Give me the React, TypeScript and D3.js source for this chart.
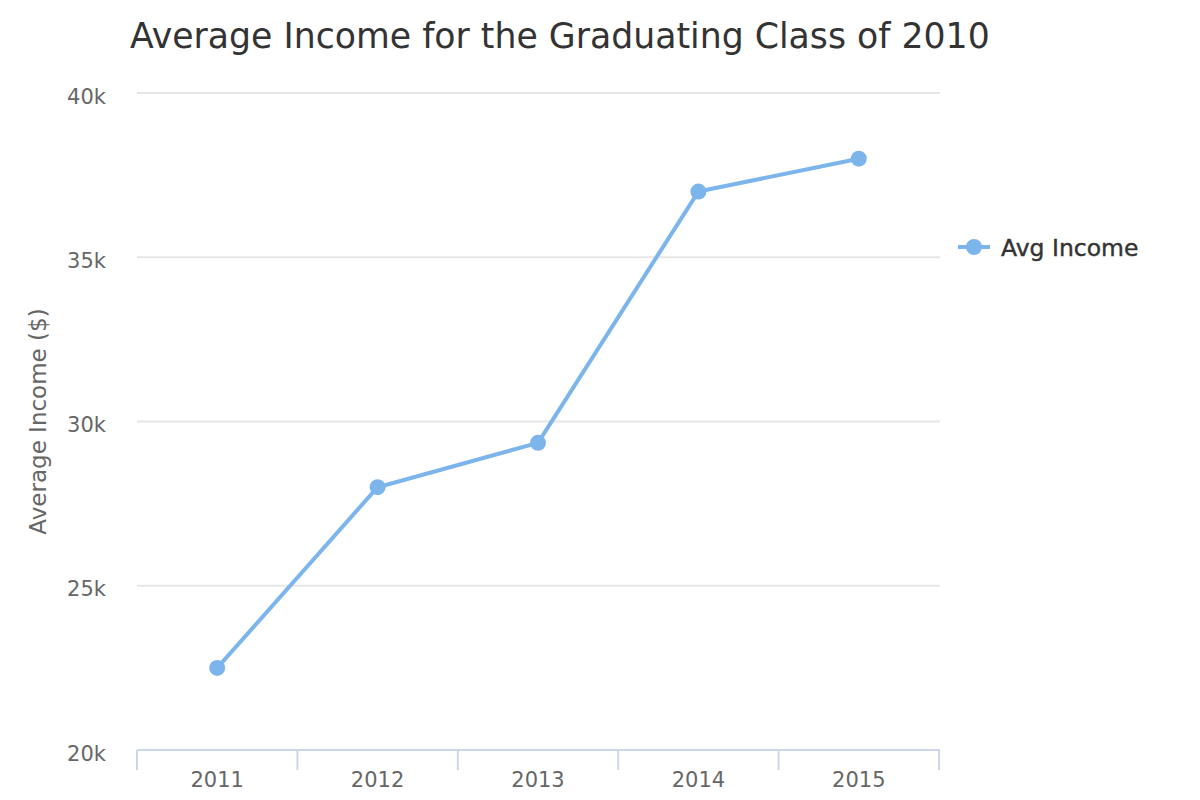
import React from "react";
import * as d3 from "d3";

const categories = ["2011", "2012", "2013", "2014", "2015"];
const avgIncome = [22500, 28000, 29350, 37000, 38000];
const yTicks = [20000, 25000, 30000, 35000, 40000];
const seriesName = "Avg Income";
const titleText = "Average Income for the Graduating Class of 2010";
const yAxisTitle = "Average Income ($)";

const FONT = "'DejaVu Sans', sans-serif";

export default function App() {
  const W = 1200, H = 800;
  const left = 137, right = 939, top = 93, bottom = 750;
  const x = d3.scaleBand<string>().domain(categories).range([left, right]);
  const y = d3.scaleLinear().domain([20000, 40000]).range([bottom, top]);
  const color = "#7cb5ec";
  const line = d3
    .line<number>()
    .x((_, i) => (x(categories[i]) as number) + x.bandwidth() / 2)
    .y((d) => y(d));
  const ticksX = [...categories.map((c) => x(c) as number), right];

  return (
    <svg
      width={W}
      height={H}
      style={{ position: "absolute", left: 0, top: 0, fontFamily: FONT }}
    >
      <rect width={W} height={H} fill="#ffffff" />
      <text x={130} y={48} fontSize={34.7} fill="#333333">
        {titleText}
      </text>
      {yTicks.map((t) => (
        <g key={t}>
          {t !== 20000 && (
            <line x1={left} x2={right + 1} y1={y(t)} y2={y(t)} stroke="#e6e6e6" strokeWidth={2} />
          )}
          <text x={106} y={y(t) + 10.5} fontSize={21} fill="#666666" textAnchor="end">
            {d3.format("d")(t / 1000) + "k"}
          </text>
        </g>
      ))}
      <text
        transform={`translate(46, ${(top + bottom) / 2}) rotate(-90)`}
        fontSize={23}
        fill="#666666"
        textAnchor="middle"
      >
        {yAxisTitle}
      </text>
      <line x1={left} x2={right + 1} y1={bottom} y2={bottom} stroke="#ccd6eb" strokeWidth={2} />
      {ticksX.map((tx, i) => (
        <line key={i} x1={tx} x2={tx} y1={bottom} y2={bottom + 20} stroke="#ccd6eb" strokeWidth={2} />
      ))}
      {categories.map((c) => (
        <text
          key={c}
          x={(x(c) as number) + x.bandwidth() / 2}
          y={787}
          fontSize={21}
          fill="#666666"
          textAnchor="middle"
        >
          {c}
        </text>
      ))}
      <path d={line(avgIncome) || ""} fill="none" stroke={color} strokeWidth={4} strokeLinejoin="round" strokeLinecap="round" />
      {avgIncome.map((v, i) => (
        <circle key={i} cx={(x(categories[i]) as number) + x.bandwidth() / 2} cy={y(v)} r={8} fill={color} />
      ))}
      <g>
        <line x1={958} x2={990} y1={247} y2={247} stroke={color} strokeWidth={4} />
        <circle cx={974} cy={247} r={8} fill={color} />
        <text x={1001} y={256} fontSize={23.5} fill="#333333" stroke="#333333" strokeWidth={0.4}>
          {seriesName}
        </text>
      </g>
    </svg>
  );
}
